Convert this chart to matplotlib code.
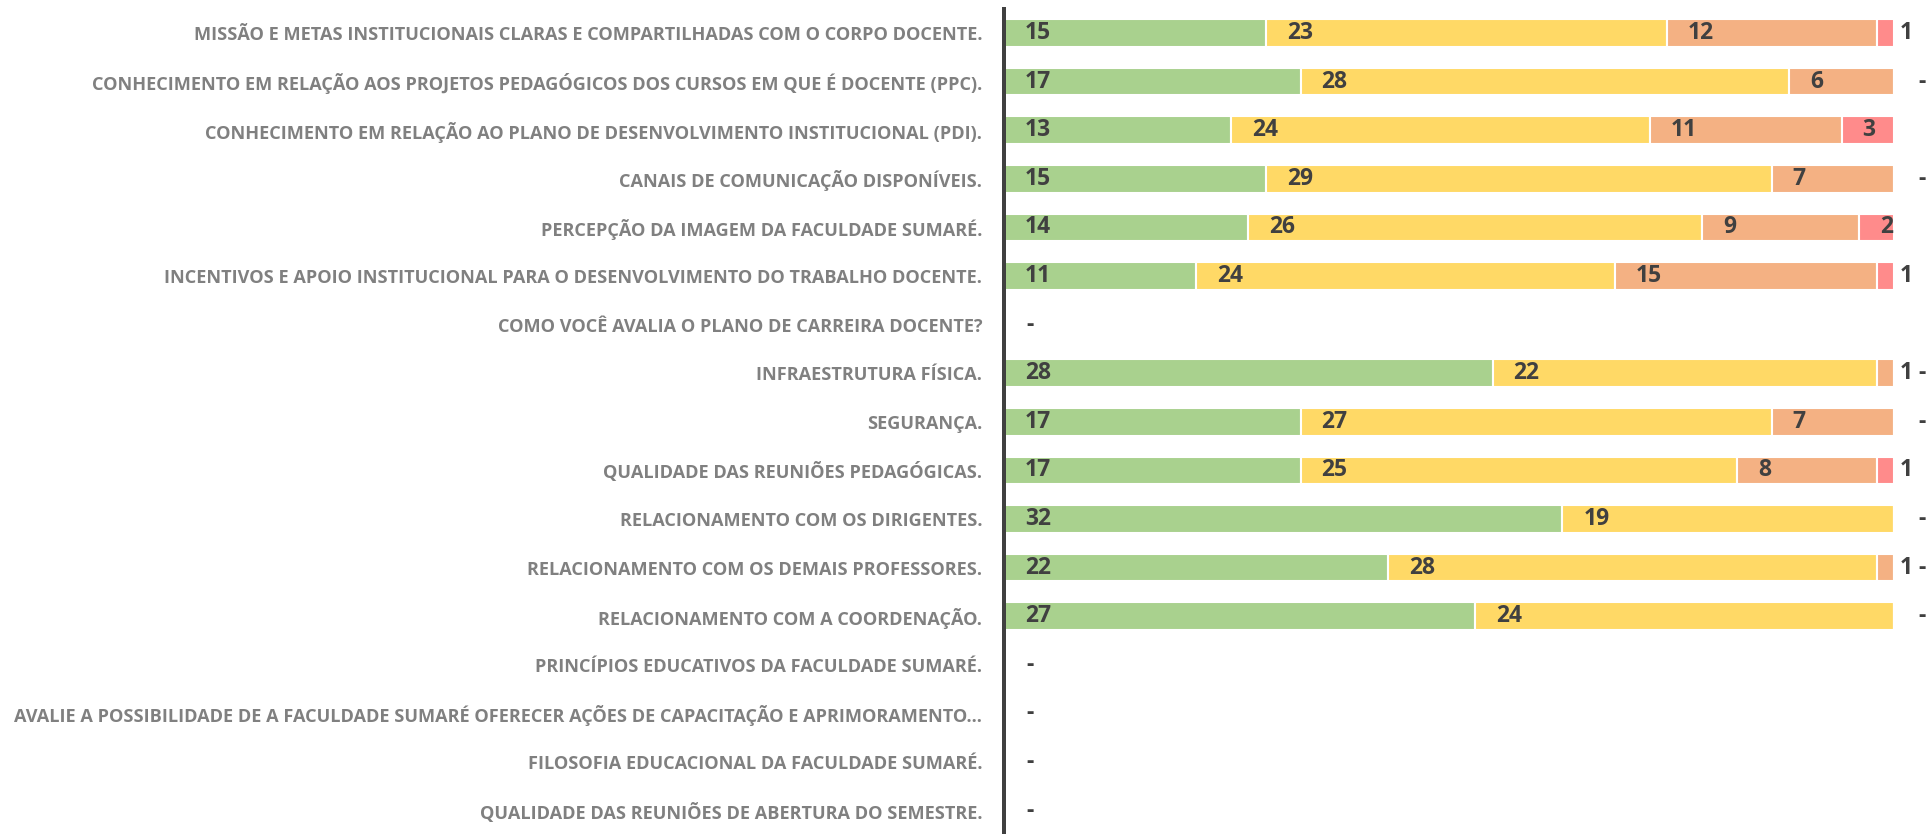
import matplotlib
matplotlib.use("Agg")
import matplotlib.pyplot as plt
from matplotlib.lines import Line2D

categories = [
    "MISSÃO E METAS INSTITUCIONAIS CLARAS E COMPARTILHADAS COM O CORPO DOCENTE.",
    "CONHECIMENTO EM RELAÇÃO AOS PROJETOS PEDAGÓGICOS DOS CURSOS EM QUE É DOCENTE (PPC).",
    "CONHECIMENTO EM RELAÇÃO AO PLANO DE DESENVOLVIMENTO INSTITUCIONAL (PDI).",
    "CANAIS DE COMUNICAÇÃO DISPONÍVEIS.",
    "PERCEPÇÃO DA IMAGEM DA FACULDADE SUMARÉ.",
    "INCENTIVOS E APOIO INSTITUCIONAL PARA O DESENVOLVIMENTO DO TRABALHO DOCENTE.",
    "COMO VOCÊ AVALIA O PLANO DE CARREIRA DOCENTE?",
    "INFRAESTRUTURA FÍSICA.",
    "SEGURANÇA.",
    "QUALIDADE DAS REUNIÕES PEDAGÓGICAS.",
    "RELACIONAMENTO COM OS DIRIGENTES.",
    "RELACIONAMENTO COM OS DEMAIS PROFESSORES.",
    "RELACIONAMENTO COM A COORDENAÇÃO.",
    "PRINCÍPIOS EDUCATIVOS DA FACULDADE SUMARÉ.",
    "AVALIE A POSSIBILIDADE DE A FACULDADE SUMARÉ OFERECER AÇÕES DE CAPACITAÇÃO E APRIMORAMENTO...",
    "FILOSOFIA EDUCACIONAL DA FACULDADE SUMARÉ.",
    "QUALIDADE DAS REUNIÕES DE ABERTURA DO SEMESTRE.",
]
otimo   = [15, 17, 13, 15, 14, 11, 0, 28, 17, 17, 32, 22, 27, 0, 0, 0, 0]
bom     = [23, 28, 24, 29, 26, 24, 0, 22, 27, 25, 19, 28, 24, 0, 0, 0, 0]
regular = [12, 6, 11, 7, 9, 15, 0, 1, 7, 8, 0, 1, 0, 0, 0, 0, 0]
ruim    = [1, 0, 3, 0, 2, 1, 0, 0, 0, 1, 0, 0, 0, 0, 0, 0, 0]

series = [otimo, bom, regular, ruim]
colors = ["#A9D18E", "#FFD966", "#F4B183", "#FF8B8B"]

W, H, DPI = 1928, 834, 100
fig = plt.figure(figsize=(W / DPI, H / DPI), dpi=DPI)
x0_px, x1_px = 1004, 1894
top_px = 9
ax = fig.add_axes([x0_px / W, 0, (x1_px - x0_px) / W, (H - top_px) / H])

row_sp = 48.6
first_c = 33
ylim_top = -(first_c - top_px) / row_sp
ylim_bot = (H - first_c) / row_sp
n = len(categories)
ypos = list(range(n))
total = [sum(v) for v in zip(*series)]
xmax = max(total)

txt_color = "#404040"
num_font = dict(family=["Open Sans", "DejaVu Sans"], fontweight="bold", fontsize=16.5, color=txt_color)
px2pt = 72 / DPI

left = [0] * n
for vals, col in zip(series, colors):
    ax.barh(ypos, vals, left=left, height=0.57, color=col, edgecolor="white", linewidth=1.5)
    for i, v in enumerate(vals):
        if v >= 2:
            ax.annotate(str(v), xy=(left[i], i), xytext=(21 * px2pt, 0), textcoords="offset points",
                        ha="left", va="center", **num_font)
    left = [l + v for l, v in zip(left, vals)]

# labels beyond bar end
for i in range(n):
    if total[i] == 0:
        ax.annotate("-", xy=(0, i), xytext=(22 * px2pt, 0), textcoords="offset points",
                    ha="left", va="center", clip_on=False, **num_font)
        continue
    end = total[i]
    small = [v for v in (regular[i], ruim[i]) if v == 1]
    if small:
        ax.annotate("1", xy=(end, i), xytext=(6 * px2pt, 0), textcoords="offset points",
                    ha="left", va="center", annotation_clip=False, **num_font)
    if ruim[i] == 0:
        ax.annotate("-", xy=(end, i), xytext=(24 * px2pt, 0), textcoords="offset points",
                    ha="left", va="center", annotation_clip=False, **num_font)

ax.set_xlim(0, xmax)
ax.set_ylim(ylim_bot, ylim_top)
ax.set_xticks([])
for s in ["top", "right", "bottom"]:
    ax.spines[s].set_visible(False)
ax.spines["left"].set_color("#404040")
ax.spines["left"].set_linewidth(4 * px2pt)

ax.set_yticks(ypos)
lab_fs = 11.8
ax.set_yticklabels(categories, fontsize=lab_fs, fontweight="bold", color="#808080",
                   family=["Open Sans", "DejaVu Sans"])
ax.tick_params(axis="y", length=0, pad=22 * px2pt)

# fit longest label width to ~972 px
fig.canvas.draw()
r = fig.canvas.get_renderer()
wmax = max(t.get_window_extent(r).width for t in ax.get_yticklabels())
target = 972
if wmax > 0:
    new_fs = lab_fs * target / wmax
    for t in ax.get_yticklabels():
        t.set_fontsize(new_fs)

fig.savefig("out.png", dpi=DPI)
